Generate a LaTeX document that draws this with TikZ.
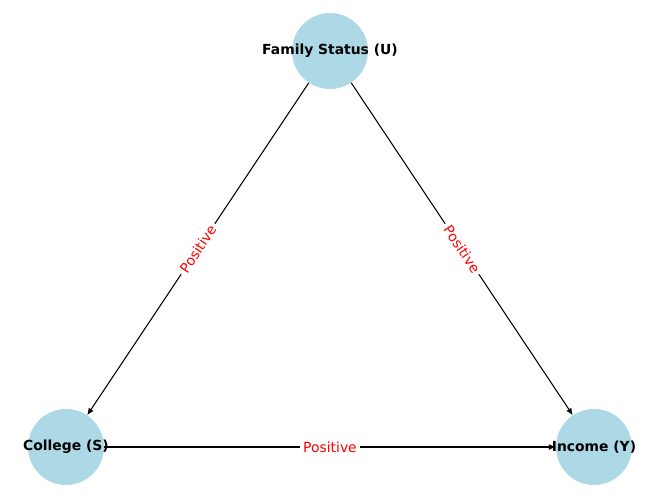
\documentclass[tikz,border=0pt]{standalone}
\usepackage{fontspec}
\setmainfont{DejaVu Sans}
\usetikzlibrary{arrows.meta}
\begin{document}
\begin{tikzpicture}[x=0.72pt,y=-0.72pt,
  vnode/.style={circle,fill={rgb,255:red,173;green,216;blue,230},minimum size=54.7pt,inner sep=0pt},
  vtext/.style={inner sep=0pt,font=\bfseries\fontsize{10}{12}\selectfont},
  arr/.style={-{Latex[length=5pt,width=4.3pt]},line width=0.75pt,black},
  elabel/.style={midway,sloped,fill=white,inner sep=2.5pt,text=red,font=\fontsize{10}{12}\selectfont}]
\useasboundingbox (0,0) rectangle (660,499);
\node[vnode,label={[vtext]center:Family Status (U)}] (U) at (330,51) {};
\node[vnode,label={[vtext]center:College (S)}] (S) at (66,447) {};
\node[vnode,label={[vtext]center:Income (Y)}] (Y) at (594,447) {};
\draw[arr] (U) -- (S) node[elabel] {Positive};
\draw[arr] (U) -- (Y) node[elabel] {Positive};
\draw[arr] (S) -- (Y) node[elabel] {Positive};
\end{tikzpicture}
\end{document}
